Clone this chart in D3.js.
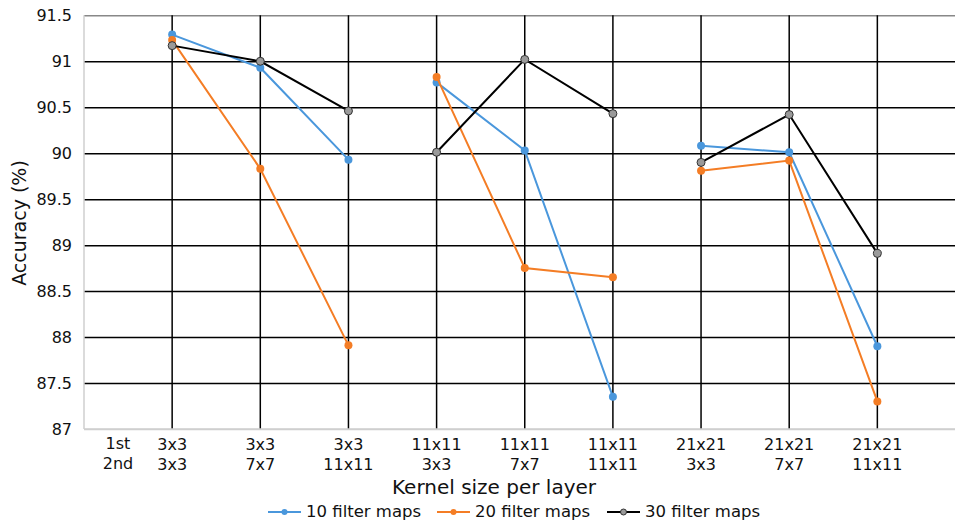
<!DOCTYPE html>
<html>
<head>
<meta charset="utf-8">
<script src="https://cdn.jsdelivr.net/npm/d3@7"></script>
<style>
  html, body { margin: 0; padding: 0; background: #fff; }
  svg { display: block; font-family: "DejaVu Sans", sans-serif; }
</style>
</head>
<body>
<svg id="chart" width="955" height="524"></svg>
<script>
const categoriesTop = ["3x3", "3x3", "3x3", "11x11", "11x11", "11x11", "21x21", "21x21", "21x21"];
const categoriesBottom = ["3x3", "7x7", "11x11", "3x3", "7x7", "11x11", "3x3", "7x7", "11x11"];
const headerLabels = ["1st", "2nd"];
const series10 = [91.29, 90.93, 89.93, 90.77, 90.03, 87.35, 90.08, 90.01, 87.90];
const series20 = [91.23, 89.83, 87.91, 90.83, 88.75, 88.65, 89.81, 89.92, 87.30];
const series30 = [91.17, 91.00, 90.46, 90.01, 91.02, 90.43, 89.90, 90.42, 88.91];
const seriesNames = ["10 filter maps", "20 filter maps", "30 filter maps"];
const yTicks = [87, 87.5, 88, 88.5, 89, 89.5, 90, 90.5, 91, 91.5];

const colors = ["#4a97dc", "#f47d25", "#000000"];
const markerFill = ["#4a97dc", "#f47d25", "#9a9a9a"];

const svg = d3.select("#chart");
const pLeft = 84, pRight = 955, pTop = 15.3, pBottom = 429;
const step = 88.15;

const x = d3.scaleLinear().domain([0, (pRight - pLeft) / step]).range([pLeft, pRight]);
const y = d3.scaleLinear().domain([87, 91.5]).range([pBottom, pTop]);

// horizontal gridlines
const yAxis = d3.axisLeft(y).tickValues(yTicks).tickSize(-(pRight - pLeft)).tickPadding(12)
  .tickFormat(d => d3.format("")(d));
const gy = svg.append("g").attr("transform", `translate(${pLeft},0)`).call(yAxis);
gy.select(".domain").remove();
gy.selectAll(".tick line").attr("stroke-width", 1.5)
  .attr("stroke", d => (d === 87 ? "#cfcfcf" : (d === 91.5 ? "#888" : "#000")));
gy.selectAll(".tick text").attr("font-size", 16).attr("fill", "#111")
  .attr("font-family", "DejaVu Sans, sans-serif").attr("x", -12);

// vertical gridlines
const xs = d3.range(1, 10);
svg.append("g").selectAll("line").data(xs).join("line")
  .attr("x1", d => x(d)).attr("x2", d => x(d))
  .attr("y1", pTop).attr("y2", pBottom)
  .attr("stroke", "#000").attr("stroke-width", 1.5);

// borders
svg.append("line").attr("x1", pLeft).attr("x2", pLeft).attr("y1", pTop).attr("y2", pBottom)
  .attr("stroke", "#cfcfcf").attr("stroke-width", 1.5);
svg.append("line").attr("x1", pLeft).attr("x2", pRight).attr("y1", pBottom).attr("y2", pBottom)
  .attr("stroke", "#cfcfcf").attr("stroke-width", 1.5);

// x tick labels
const xl = svg.append("g").attr("font-size", 16).attr("fill", "#111").attr("text-anchor", "middle");
categoriesTop.forEach((c, i) => {
  xl.append("text").attr("x", x(i + 1)).attr("y", 450).text(c);
  xl.append("text").attr("x", x(i + 1)).attr("y", 470).text(categoriesBottom[i]);
});
xl.append("text").attr("x", 118).attr("y", 449).text(headerLabels[0]);
xl.append("text").attr("x", 118).attr("y", 469).text(headerLabels[1]);

// axis titles
svg.append("text").attr("x", 494).attr("y", 494).attr("text-anchor", "middle")
  .attr("font-size", 20).attr("fill", "#111").text("Kernel size per layer");
svg.append("text").attr("transform", "translate(26,223) rotate(-90)").attr("text-anchor", "middle")
  .attr("font-size", 19).attr("fill", "#111").text("Accuracy (%)");

// series
const allSeries = [series10, series20, series30];
const segments = [[0, 3], [3, 6], [6, 9]];
allSeries.forEach((s, k) => {
  const g = svg.append("g");
  segments.forEach(([a, b]) => {
    const pts = s.slice(a, b).map((v, j) => ({v, i: a + j}));
    g.append("path")
      .attr("d", d3.line().x(p => x(p.i + 1)).y(p => y(p.v))(pts))
      .attr("fill", "none").attr("stroke", colors[k]).attr("stroke-width", 2);
  });
  g.selectAll("circle").data(s).join("circle")
    .attr("cx", (d, i) => x(i + 1)).attr("cy", d => y(d))
    .attr("r", 4)
    .attr("fill", markerFill[k])
    .attr("stroke", k === 2 ? "#333" : "none").attr("stroke-width", 1);
});

// legend
const legendX = [268, 437, 607];
const lg = svg.append("g");
seriesNames.forEach((n, k) => {
  const lx = legendX[k], ly = 512;
  lg.append("line").attr("x1", lx).attr("x2", lx + 33).attr("y1", ly).attr("y2", ly)
    .attr("stroke", colors[k]).attr("stroke-width", 2);
  lg.append("circle").attr("cx", lx + 16.5).attr("cy", ly).attr("r", 3)
    .attr("fill", markerFill[k]).attr("stroke", k === 2 ? "#333" : "none");
  lg.append("text").attr("x", lx + 38).attr("y", ly + 5).attr("font-size", 16.5)
    .attr("fill", "#111").text(n);
});
</script>
</body>
</html>
